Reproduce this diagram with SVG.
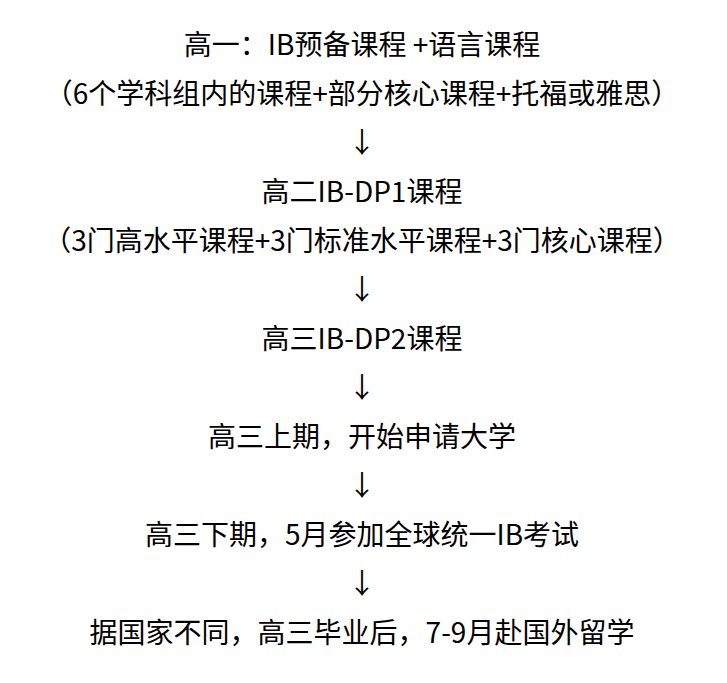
<svg xmlns="http://www.w3.org/2000/svg" width="727" height="683" viewBox="0 0 727 683">
<style>
text { font-family: "Noto Sans CJK SC", "Noto Sans", sans-serif; font-size: 28px; fill: #000; text-anchor: middle; }
</style>
<rect width="727" height="683" fill="#fff"/>
<g id="n1"><text x="362" y="55">高一：IB预备课程 +语言课程</text></g>
<g id="n1b"><text x="362" y="104">（6个学科组内的课程+部分核心课程+托福或雅思）</text></g>
<g id="n2"><text x="362" y="202">高二IB-DP1课程</text></g>
<g id="n2b"><text x="362" y="251">（3门高水平课程+3门标准水平课程+3门核心课程）</text></g>
<g id="n3"><text x="362" y="349">高三IB-DP2课程</text></g>
<g id="n4"><text x="362" y="447">高三上期，开始申请大学</text></g>
<g id="n5"><text x="362" y="545">高三下期，5月参加全球统一IB考试</text></g>
<g id="n6"><text x="362" y="643">据国家不同，高三毕业后，7-9月赴国外留学</text></g>
<g id="connectors">
<text x="362" y="153">↓</text>
<text x="362" y="300">↓</text>
<text x="362" y="398">↓</text>
<text x="362" y="496">↓</text>
<text x="362" y="594">↓</text>
</g>
</svg>
